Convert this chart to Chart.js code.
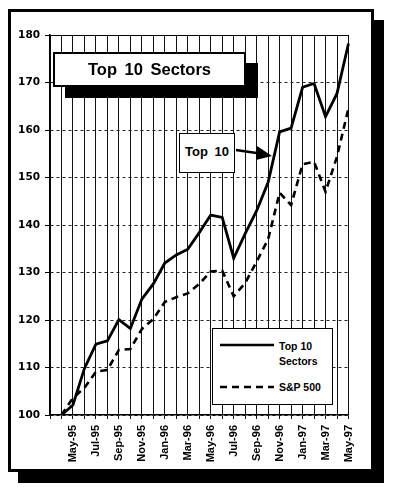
<!DOCTYPE html>
<html>
<head>
<meta charset="utf-8">
<script src="https://cdn.jsdelivr.net/npm/chart.js"></script>
<style>
  html, body { margin: 0; padding: 0; background: #fff; }
  body { width: 396px; height: 490px; position: relative; overflow: hidden; font-family: "Liberation Sans", Arial, sans-serif; }
  #frame { position: absolute; left: 8px; top: 9px; width: 360px; height: 457px; border: 3px solid #000; background: #fff; box-shadow: 10px 11px 0 0 #000; }
  #wrap { position: absolute; left: 0; top: 0; width: 396px; height: 490px; }
  .box { position: absolute; background: #fff; border: 2px solid #000; box-sizing: border-box; font-weight: bold; color: #000; }
  #title { left: 53px; top: 52px; width: 193px; height: 35px; box-shadow: 12px 11px 0 0 #000; font-size: 16.5px; word-spacing: 3px; text-align: center; line-height: 31px; }
  #note { left: 179px; top: 133px; width: 56px; height: 40px; font-size: 13px; word-spacing: 3px; text-align: center; line-height: 36px; border-width: 1.5px; }
  #legend { left: 212px; top: 328px; width: 121px; height: 77px; border-width: 1px; font-size: 10.5px; }
  #legend span { position: absolute; left: 66px; line-height: 13px; }
  svg { position: absolute; left: 0; top: 0; }
</style>
</head>
<body>
<div id="frame"></div>
<div id="wrap"><canvas id="chart" width="396" height="490"></canvas></div>

<div class="box" id="title">Top 10 Sectors</div>
<div class="box" id="note">Top 10</div>
<svg width="396" height="490">
  <line x1="236" y1="150" x2="260" y2="153.5" stroke="#000" stroke-width="2.5"/>
  <polygon points="257,146 272,156 256,160" fill="#000"/>
</svg>
<div class="box" id="legend">
  <svg width="121" height="77">
    <line x1="7" y1="16" x2="61" y2="16" stroke="#000" stroke-width="2.5"/>
    <line x1="7" y1="58" x2="61" y2="58" stroke="#000" stroke-width="2.5" stroke-dasharray="7 5"/>
  </svg>
  <span style="top:11px">Top 10</span>
  <span style="top:26px">Sectors</span>
  <span style="top:52px">S&amp;P 500</span>
</div>

<script>
// months on the x axis (first one is the empty left edge)
const months = ['Mar-95', 'Apr-95', 'May-95', 'Jun-95', 'Jul-95', 'Aug-95', 'Sep-95', 'Oct-95', 'Nov-95', 'Dec-95',
    'Jan-96', 'Feb-96', 'Mar-96', 'Apr-96', 'May-96', 'Jun-96', 'Jul-96', 'Aug-96', 'Sep-96', 'Oct-96', 'Nov-96', 'Dec-96',
    'Jan-97', 'Feb-97', 'Mar-97', 'Apr-97', 'May-97'];

const top10 = [null, 100, 102.1, 109.8, 114.9, 115.6, 120.1, 118.2, 124.4, 127.6, 132.0, 133.7, 134.9, 138.4,
    142.1, 141.6, 133.0, 138.2, 143.0, 149.0, 159.6, 160.4, 169.0, 169.8, 162.8, 167.7, 178.2];

const sp500 = [null, 100, 103.6, 105.7, 109.1, 109.5, 113.7, 113.9, 118.1, 120.2, 123.8, 124.8, 125.6, 127.6,
    130.2, 130.4, 125.0, 127.8, 132.3, 137.0, 146.8, 144.2, 152.8, 153.3, 147.0, 154.4, 164.6];

const yTicks = [100, 110, 120, 130, 140, 150, 160, 170, 180];

const ctx = document.querySelector('#chart').getContext('2d');

// top edge of the plot is a solid line
const plotTop = {
    id: 'plotTop',
    afterDraw(chart) {
        const a = chart.chartArea;
        const c = chart.ctx;
        c.save();
        c.strokeStyle = '#000';
        c.lineWidth = 1;
        c.beginPath();
        c.moveTo(a.left, a.top + 0.5);
        c.lineTo(a.right, a.top + 0.5);
        c.stroke();
        c.restore();
    }
};

new Chart(ctx, {
    type: 'line',
    data: {
        labels: months,
        datasets: [
            {
                label: 'Top 10 Sectors',
                data: top10,
                borderColor: '#000',
                borderWidth: 2.8,
                pointRadius: 0,
                tension: 0
            },
            {
                label: 'S&P 500',
                data: sp500,
                borderColor: '#000',
                borderWidth: 2.6,
                borderDash: [7, 5],
                pointRadius: 0,
                tension: 0
            }
        ]
    },
    options: {
        responsive: false,
        animation: false,
        layout: { padding: { left: 0, top: 35, right: 47.5, bottom: 0 } },
        plugins: { legend: { display: false }, tooltip: { enabled: false } },
        scales: {
            x: {
                type: 'category',
                offset: false,
                afterFit(scale) { scale.height = 75; },
                grid: { color: '#111', lineWidth: 1, tickLength: 4, tickColor: '#111' },
                border: { color: '#000', width: 1.5 },
                ticks: {
                    autoSkip: false,
                    maxRotation: 90,
                    minRotation: 90,
                    padding: 6,
                    color: '#000',
                    font: { family: 'Liberation Sans', size: 11, weight: 'bold' },
                    callback: function(val, idx) {
                        return idx > 0 && idx % 2 === 0 ? this.getLabelForValue(val) : '';
                    }
                }
            },
            y: {
                min: 100,
                max: 180,
                afterFit(scale) { scale.width = 50; },
                afterBuildTicks(scale) { scale.ticks = yTicks.map(v => ({ value: v })); },
                grid: { color: '#222', lineWidth: 1, tickLength: 5, tickColor: '#000', tickBorderDash: [] },
                border: { color: '#000', width: 1.5, dash: [3, 3] },
                ticks: {
                    padding: 5,
                    color: '#000',
                    font: { family: 'DejaVu Sans', size: 10.5, weight: 'bold' }
                }
            }
        }
    },
    plugins: [plotTop]
});
</script>
</body>
</html>
